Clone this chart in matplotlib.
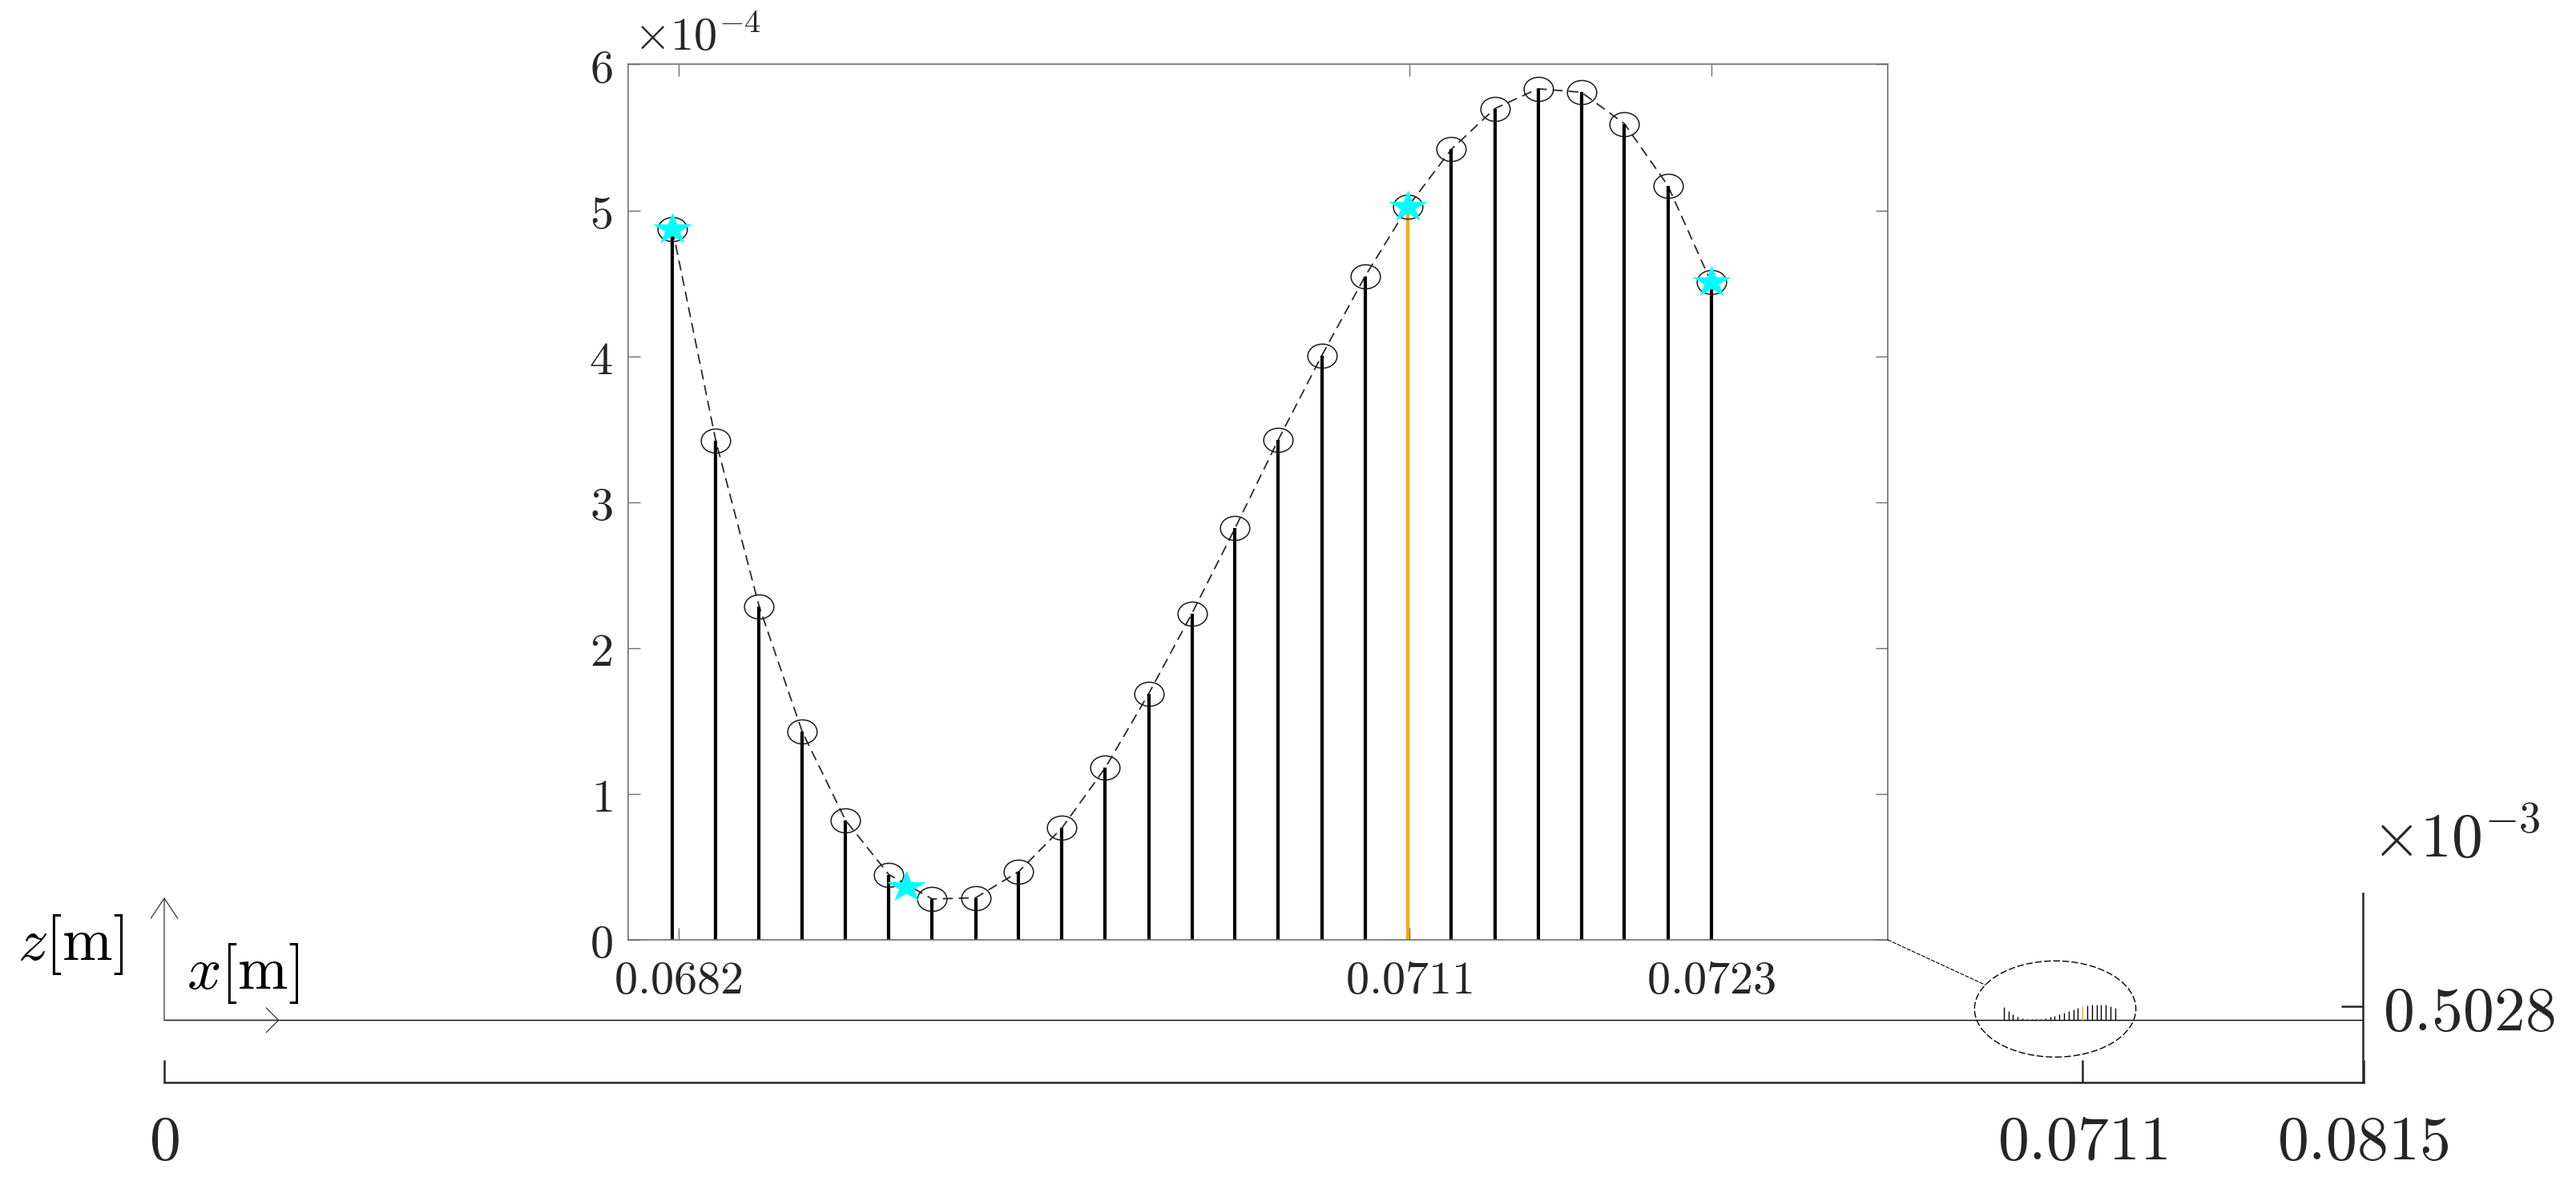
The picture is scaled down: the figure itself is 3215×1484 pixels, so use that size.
import numpy as np
import matplotlib
matplotlib.use("Agg")
import matplotlib.pyplot as plt
from matplotlib.path import Path
from matplotlib.patches import Ellipse, ConnectionPatch
from matplotlib.markers import MarkerStyle
from matplotlib.transforms import Affine2D
from matplotlib.patches import ArrowStyle

plt.rcParams['mathtext.fontset'] = 'cm'

# ---- data (x in m, z in 1e-4 m) ----
x_nodes = [0.068176, 0.068348, 0.068520, 0.068691, 0.068863, 0.069035, 0.069207,
           0.069379, 0.069550, 0.069722, 0.069894, 0.070066, 0.070238, 0.070409,
           0.070581, 0.070753, 0.070925, 0.071096, 0.071268, 0.071440, 0.071612,
           0.071784, 0.071955, 0.072127, 0.072299]
z_nodes_e4 = [4.870, 3.420, 2.285, 1.426, 0.819, 0.447, 0.280, 0.288, 0.467, 0.767,
              1.179, 1.686, 2.237, 2.821, 3.428, 4.003, 4.547, 5.026, 5.418, 5.697,
              5.833, 5.809, 5.593, 5.170, 4.507]
highlight_idx = 17
star_x = [0.068176, 0.069105, 0.071096, 0.072299]
star_z_e4 = [4.870, 0.364, 5.026, 4.507]

inset_xticks = [0.0682, 0.0711, 0.0723]
inset_xlabels = ["0.0682", "0.0711", "0.0723"]
inset_yticks = [0, 1, 2, 3, 4, 5, 6]
main_xticks = [0, 0.0711, 0.0815]
main_xlabels = ["0", "0.0711", "0.0815"]
main_ytick = 0.5028e-3

W, H, DPI = 3216, 1484, 200
def fx(px): return px / W
def fy(py): return 1 - py / H

fig = plt.figure(figsize=(W / DPI, H / DPI), dpi=DPI)
TXT = '#262626'

# ---------------- main (full beam) axes ----------------
ax = fig.add_axes([fx(205), fy(1351), 2744.5 / W, 236 / H])
ax.set_facecolor('none')
ax.set_xlim(0, 0.0815)
ax.set_ylim(-0.002307, 0.004701)
for s in ('left', 'top'):
    ax.spines[s].set_visible(False)
for s in ('right', 'bottom'):
    ax.spines[s].set_color(TXT)
    ax.spines[s].set_linewidth(0.9)
ax.yaxis.tick_right()
ax.set_xticks(main_xticks)
ax.set_xticklabels(["$%s$" % s for s in main_xlabels])
ax.set_yticks([main_ytick])
ax.set_yticklabels(["$0.5028$"])
ax.tick_params(axis='x', direction='in', length=10, width=0.9, color=TXT,
               labelsize=28, pad=13, labelcolor=TXT)
ax.tick_params(axis='y', direction='in', length=9.7, width=0.9, color=TXT,
               labelsize=28, pad=9, labelcolor=TXT)

z_m = [z * 1e-4 for z in z_nodes_e4]
stem_cols = ['#FFA500' if i == highlight_idx else 'k' for i in range(len(x_nodes))]
ax.plot([0, 0.0815], [0, 0], color='k', lw=0.5)
ax.vlines(x_nodes, 0, z_m, colors=stem_cols, lw=0.5)

# zoom ellipse
ex, ez, ew, eh = 0.070082, 0.000416, 0.00598, 0.003563
ax.add_patch(Ellipse((ex, ez), ew, eh, fill=False, ec='k', lw=0.5,
                     ls=(0, (6, 2.2))))

# coordinate arrows
ax.annotate("", xy=(0, 0.004552), xytext=(0, 0),
            arrowprops=dict(arrowstyle=ArrowStyle('->', head_length=0.9, head_width=0.6),
                            color='#333333', lw=0.45, shrinkA=0, shrinkB=0,
                            mutation_scale=10), annotation_clip=False)
ax.annotate("", xy=(0.004261, 0), xytext=(0, 0),
            arrowprops=dict(arrowstyle=ArrowStyle('->', head_length=0.55, head_width=0.55),
                            color='#333333', lw=0.45, shrinkA=0, shrinkB=0,
                            mutation_scale=10), annotation_clip=False)

fig.text(fx(22), fy(1198), r'$z[\mathrm{m}]$', fontsize=27, va='baseline', ha='left', color='k')
fig.text(fx(233), fy(1234), r'$x[\mathrm{m}]$', fontsize=27, va='baseline', ha='left', color='k')
fig.text(fx(2960), fy(1070), r'$\times10^{-3}$', fontsize=28, va='baseline', ha='left', color=TXT)

# ---------------- inset (zoomed) axes ----------------
ins = fig.add_axes([fx(784), fy(1173), 1572 / W, 1092.6 / H])
ins.set_xlim(0.068, 0.073)
ins.set_ylim(0, 6)
for s in ins.spines.values():
    s.set_color('#6e6e6e')
    s.set_linewidth(0.6)
ins.set_xticks(inset_xticks)
ins.set_xticklabels(["$%s$" % s for s in inset_xlabels])
ins.set_yticks(inset_yticks)
ins.set_yticklabels(["$%d$" % v for v in inset_yticks])
ins.tick_params(which='both', direction='in', top=True, right=True, length=5.4,
                width=0.5, color='#6e6e6e', labelsize=21, labelcolor=TXT)
ins.tick_params(axis='x', pad=8)
ins.tick_params(axis='y', pad=7)

ins.plot(x_nodes, z_nodes_e4, color='#2a2a2a', lw=0.65, ls=(0, (7, 4)), zorder=1)
ins.vlines(x_nodes, 0, z_nodes_e4, colors=stem_cols, lw=1.5, zorder=2)

ell_marker = MarkerStyle(Path.unit_circle().transformed(Affine2D().scale(1.22, 1.0)))
ins.plot(x_nodes, z_nodes_e4, ls='none', marker=ell_marker, ms=13.2, mfc='none',
         mec='#1a1a1a', mew=0.55, zorder=3)

ang = np.pi / 2 + np.arange(10) * np.pi / 5
rad = np.where(np.arange(10) % 2 == 0, 1.0, 0.382)
sv = np.c_[rad * np.cos(ang) * 1.22, rad * np.sin(ang)]
star_marker = MarkerStyle(Path(np.vstack([sv, sv[:1]]), closed=True))
ins.plot(star_x, star_z_e4, ls='none', marker=star_marker, ms=16.6, mfc='#00FFFF',
         mec='#00FFFF', mew=0.3, zorder=4)

fig.text(fx(791), fy(63), r'$\times10^{-4}$', fontsize=21, va='baseline', ha='left', color=TXT)

# connector from inset corner to zoom ellipse
t = np.deg2rad(150)
con = ConnectionPatch(xyA=(1, 0), coordsA=ins.transAxes,
                      xyB=(ex + ew / 2 * np.cos(t), ez + eh / 2 * np.sin(t)), coordsB=ax.transData,
                      color='k', lw=0.4, ls=(0, (4, 2)))
fig.add_artist(con)

fig.savefig("out.png", dpi=DPI)
